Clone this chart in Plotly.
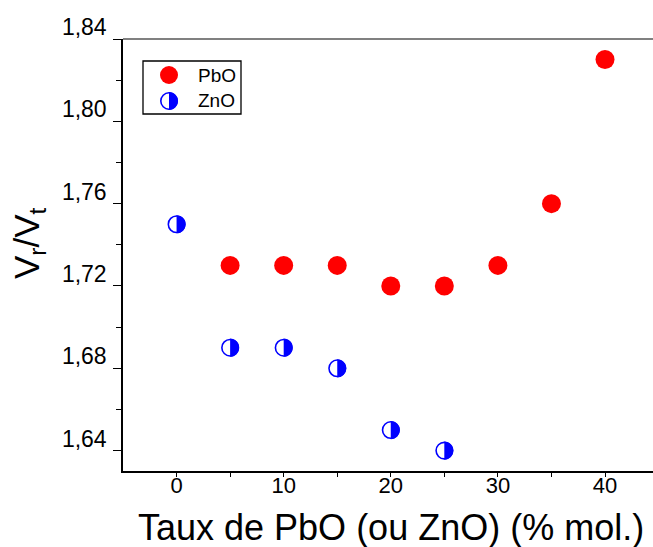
import plotly.graph_objects as go

# ---------------- data ----------------
pbo_x = [5, 10, 15, 20, 25, 30, 35, 40]
pbo_y = [1.73, 1.73, 1.73, 1.72, 1.72, 1.73, 1.76, 1.83]
zno_x = [0, 5, 10, 15, 20, 25]
zno_y = [1.75, 1.69, 1.69, 1.68, 1.65, 1.64]

x_ticks = [0, 10, 20, 30, 40]
x_minor = [5, 15, 25, 35]
y_ticks = [1.64, 1.68, 1.72, 1.76, 1.80, 1.84]
y_minor = [1.66, 1.70, 1.74, 1.78, 1.82]
y_labels = ["1,64", "1,68", "1,72", "1,76", "1,80", "1,84"]

series_names = ["PbO", "ZnO"]
RED = "#ff0000"
BLUE = "#0000ff"

# ---------------- layout geometry ----------------
W, H = 653, 547
ML, MR, MT, MB = 123, 0, 39, 76
PW = W - ML - MR
PH = H - MT - MB
FONT = "Arial, Liberation Sans, sans-serif"


def px_to_paper(px, py):
    return (px - ML) / PW, (H - MB - py) / PH


def half_disc_path(r):
    k = 0.5523 * r
    return (f"M 0,{r} C {k},{r} {r},{k} {r},0 "
            f"C {r},{-k} {k},{-r} 0,{-r} Z")


fig = go.Figure()

fig.add_trace(go.Scatter(
    x=pbo_x, y=pbo_y, mode="markers", name=series_names[0],
    marker=dict(symbol="circle", size=19, color=RED, line=dict(width=0)),
    showlegend=False,
))
fig.add_trace(go.Scatter(
    x=zno_x, y=zno_y, mode="markers", name=series_names[1],
    marker=dict(symbol="circle", size=16.5, color="white",
                line=dict(width=1.6, color=BLUE)),
    showlegend=False,
))

shapes = []
# right-half fill for ZnO markers, anchored at each data point
for xv, yv in zip(zno_x, zno_y):
    shapes.append(dict(
        type="path", xref="x", yref="y", xsizemode="pixel", ysizemode="pixel",
        xanchor=xv, yanchor=yv, path=half_disc_path(9.1),
        fillcolor=BLUE, line=dict(width=0), layer="above",
    ))

# grey top frame line
shapes.append(dict(type="line", xref="paper", yref="paper", x0=0, x1=1,
                   y0=1, y1=1, line=dict(color="#808080", width=2),
                   layer="above"))

# ---------------- manual legend ----------------
bx0, by0 = px_to_paper(143, 61)
bx1, by1 = px_to_paper(241, 114)
shapes.append(dict(type="rect", xref="paper", yref="paper",
                   x0=bx0, x1=bx1, y0=by1, y1=by0,
                   line=dict(color="black", width=1.3),
                   fillcolor="white", layer="above"))

lx, ly1 = px_to_paper(169, 75)
_, ly2 = px_to_paper(169, 101)
shapes.append(dict(type="circle", xref="paper", yref="paper",
                   xsizemode="pixel", ysizemode="pixel", xanchor=lx, yanchor=ly1,
                   x0=-9, x1=9, y0=-9, y1=9, fillcolor=RED,
                   line=dict(width=0), layer="above"))
shapes.append(dict(type="circle", xref="paper", yref="paper",
                   xsizemode="pixel", ysizemode="pixel", xanchor=lx, yanchor=ly2,
                   x0=-8.2, x1=8.2, y0=-8.2, y1=8.2, fillcolor="white",
                   line=dict(width=1.6, color=BLUE), layer="above"))
shapes.append(dict(type="path", xref="paper", yref="paper",
                   xsizemode="pixel", ysizemode="pixel", xanchor=lx, yanchor=ly2,
                   path=half_disc_path(9.0), fillcolor=BLUE,
                   line=dict(width=0), layer="above"))

tx, _ = px_to_paper(196, 75)
annotations = [
    dict(xref="paper", yref="paper", x=tx, y=ly1, text=series_names[0],
         showarrow=False, xanchor="left", yanchor="middle",
         font=dict(family=FONT, size=19, color="black")),
    dict(xref="paper", yref="paper", x=tx, y=ly2, text=series_names[1],
         showarrow=False, xanchor="left", yanchor="middle",
         font=dict(family=FONT, size=19, color="black")),
]

# axis titles
ytx, yty = px_to_paper(29, 243)
annotations.append(dict(xref="paper", yref="paper", x=ytx, y=yty,
                        text="V<sub>r</sub>/V<sub>t</sub>", textangle=-90,
                        showarrow=False, xanchor="center", yanchor="middle",
                        font=dict(family=FONT, size=35, color="black")))
xtx, xty = px_to_paper(391, 527)
annotations.append(dict(xref="paper", yref="paper", x=xtx, y=xty,
                        text="Taux de PbO (ou ZnO) (% mol.)",
                        showarrow=False, xanchor="center", yanchor="middle",
                        font=dict(family=FONT, size=36, color="black")))

fig.update_layout(
    width=W, height=H,
    margin=dict(l=ML, r=MR, t=MT, b=MB, pad=0),
    paper_bgcolor="white", plot_bgcolor="white",
    font=dict(family=FONT, color="black"),
    shapes=shapes, annotations=annotations,
    showlegend=False,
)

fig.update_xaxes(
    range=[-5, 44.48], showgrid=False, zeroline=False,
    showline=True, linecolor="black", linewidth=1.5,
    tickmode="array", tickvals=x_ticks, ticktext=[str(v) for v in x_ticks],
    ticks="outside", ticklen=4, tickwidth=1.3, tickcolor="black",
    minor=dict(tickmode="array", tickvals=x_minor, ticks="outside",
               ticklen=4, tickwidth=1.3, tickcolor="black", showgrid=False),
    tickfont=dict(family=FONT, size=22, color="black"),
    ticklabelstandoff=-10,
)
fig.update_yaxes(
    range=[1.6301, 1.84], showgrid=False, zeroline=False,
    showline=True, linecolor="black", linewidth=1.5,
    tickmode="array", tickvals=y_ticks, ticktext=y_labels,
    ticks="outside", ticklen=8, tickwidth=1.3, tickcolor="black",
    minor=dict(tickmode="array", tickvals=y_minor, ticks="outside",
               ticklen=5, tickwidth=1.3, tickcolor="black", showgrid=False),
    tickfont=dict(family=FONT, size=23, color="black"),
    ticklabelshift=-12, ticklabelstandoff=2,
)

fig.write_html("out.html")
